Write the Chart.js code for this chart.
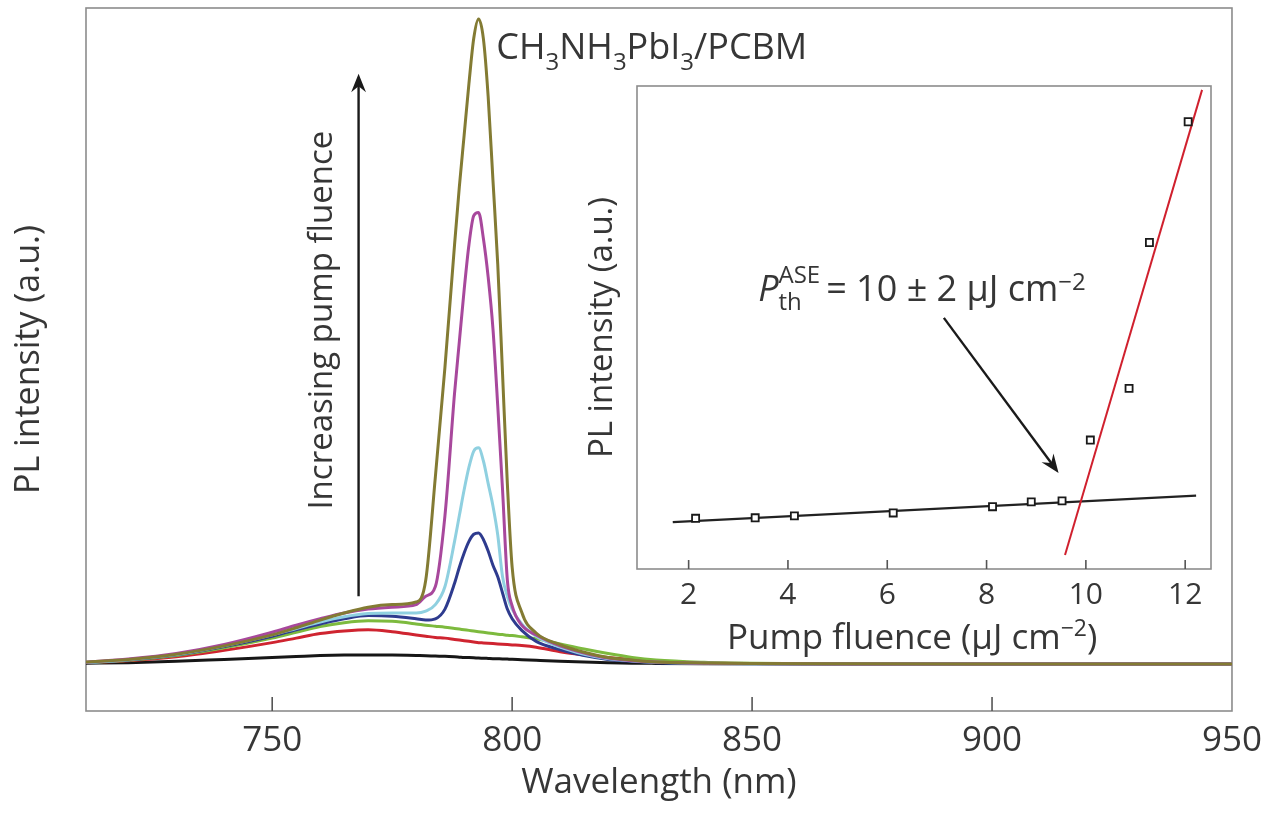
<!DOCTYPE html>
<html>
<head>
<meta charset="utf-8">
<script src="https://cdn.jsdelivr.net/npm/chart.js@4.4.0/dist/chart.umd.min.js"></script>
<style>
  body { margin: 0; background: #fff; }
  #wrap { position: relative; width: 1271px; height: 814px; }
  #main { position: absolute; left: 0; top: 0; }
  #inset { position: absolute; left: 560px; top: 56px; }
</style>
</head>
<body>
<div id="wrap">
  <canvas id="main" width="1271" height="814"></canvas>
  <canvas id="inset" width="690" height="612"></canvas>
</div>
<script>
// Main spectra (PL intensity, arbitrary units; highest peak = 100)
const wavelength = [711, 720, 730, 740, 750, 755, 760, 765, 770, 775, 780, 782, 784, 786, 788, 789, 790, 791, 792, 793, 794, 795, 796, 797, 798, 799, 800, 802, 805, 810, 815, 820, 825, 830, 840, 850, 870, 900, 950];
const plBlack   = [0.1, 0.2, 0.4, 0.7, 1.0, 1.15, 1.3, 1.38, 1.4, 1.38, 1.3, 1.27, 1.22, 1.18, 1.1, 1.05, 1.0, 0.98, 0.95, 0.9, 0.88, 0.85, 0.82, 0.8, 0.78, 0.75, 0.72, 0.65, 0.55, 0.4, 0.3, 0.2, 0.12, 0.08, 0.03, 0.01, 0, 0, 0];
const plRed     = [0.2, 0.5, 1.1, 2.1, 3.3, 4.0, 4.7, 5.1, 5.3, 5.0, 4.5, 4.3, 4.1, 4.0, 3.8, 3.7, 3.6, 3.5, 3.4, 3.3, 3.25, 3.2, 3.15, 3.1, 3.05, 3.0, 2.95, 2.85, 2.6, 1.9, 1.4, 1.0, 0.65, 0.4, 0.15, 0.05, 0, 0, 0];
const plGreen   = [0.2, 0.55, 1.3, 2.5, 4.0, 4.9, 5.8, 6.4, 6.7, 6.6, 6.2, 6.0, 5.85, 5.7, 5.5, 5.4, 5.3, 5.2, 5.1, 5.0, 4.9, 4.8, 4.7, 4.6, 4.55, 4.45, 4.4, 4.2, 3.9, 3.1, 2.3, 1.6, 1.0, 0.6, 0.25, 0.1, 0, 0, 0];
const plNavy    = [0.2, 0.6, 1.4, 2.7, 4.3, 5.3, 6.2, 7.0, 7.5, 7.4, 7.0, 6.8, 7.0, 8.5, 12.5, 15, 17.2, 19, 20.1, 20.3, 19.3, 17.5, 15.3, 13.5, 11, 8.5, 7.0, 5.2, 3.5, 2.2, 1.3, 0.7, 0.4, 0.2, 0.08, 0.03, 0, 0, 0];
const plCyan    = [0.2, 0.65, 1.45, 2.8, 4.5, 5.5, 6.5, 7.3, 7.8, 7.9, 7.9, 8.2, 9.2, 12, 19, 23, 27, 30.5, 33, 33.5, 31.5, 28, 24.5, 20, 13.5, 10.5, 8.5, 6.2, 4.3, 2.6, 1.5, 0.8, 0.45, 0.25, 0.1, 0.03, 0, 0, 0];
const plMagenta = [0.25, 0.75, 1.6, 3.0, 4.9, 6.0, 7.0, 7.9, 8.5, 8.8, 9.2, 10.5, 12, 23, 42, 50, 58, 65, 69.5, 70, 66, 60, 52, 40, 27, 13, 9, 6, 4.5, 2.8, 1.7, 0.9, 0.5, 0.3, 0.12, 0.05, 0, 0, 0];
const plOlive   = [0.3, 0.7, 1.5, 2.8, 4.5, 5.6, 6.8, 7.9, 8.8, 9.2, 9.6, 13, 29, 46, 65, 74, 82, 90, 97, 100, 97, 88, 75, 62, 45, 28, 15, 8, 4.8, 3.0, 1.8, 1.0, 0.6, 0.3, 0.15, 0.08, 0.03, 0, 0];
const wlTicks = [750, 800, 850, 900, 950];

// Inset: integrated PL vs pump fluence
const fluence     = [2.14, 3.34, 4.13, 6.12, 8.12, 8.9, 9.52, 10.09, 10.87, 11.28, 12.06];
const plIntegral  = [10.5, 10.6, 11.0, 11.6, 12.9, 13.9, 14.1, 26.7, 37.4, 67.6, 92.6];
const fitLowX  = [1.68, 12.22];
const fitLowY  = [9.7, 15.2];
const fitHighX = [9.58, 12.34];
const fitHighY = [2.9, 99.2];
const fluenceTicks = [2, 4, 6, 8, 10, 12];

const FONT = "'Open Sans', 'DejaVu Sans', sans-serif";
const TEXT = '#363636';
Chart.defaults.font.family = FONT;
Chart.defaults.color = TEXT;

const pts = (xs, ys) => xs.map((x, i) => ({ x, y: ys[i] }));

// draws text with sub/superscripts; parts = [text, kind, dy, noAdvance]
function drawRich(ctx, parts, x, y, size, align) {
  const total = parts.reduce((w, p) => {
    ctx.font = fontFor(p[1], size);
    return p[3] ? w : w + ctx.measureText(p[0]).width;
  }, 0);
  let cx = align === 'center' ? x - total / 2 : x;
  ctx.textAlign = 'left';
  ctx.textBaseline = 'alphabetic';
  parts.forEach(([t, kind, dy, noAdvance]) => {
    ctx.font = fontFor(kind, size);
    ctx.fillText(t, cx, y + (dy || 0) * size);
    if (!noAdvance) cx += ctx.measureText(t).width;
  });
}
function fontFor(kind, size) {
  if (kind === 'small') return `${Math.round(size * 0.66)}px ${FONT}`;
  if (kind === 'i') return `italic ${size}px ${FONT}`;
  return `${size}px ${FONT}`;
}

function arrow(ctx, x1, y1, x2, y2, head, w) {
  const ang = Math.atan2(y2 - y1, x2 - x1);
  ctx.lineWidth = w;
  ctx.beginPath();
  ctx.moveTo(x1, y1);
  ctx.lineTo(x2 - Math.cos(ang) * head * 0.6, y2 - Math.sin(ang) * head * 0.6);
  ctx.stroke();
  ctx.beginPath();
  ctx.moveTo(x2, y2);
  ctx.lineTo(x2 - head * Math.cos(ang - 0.38), y2 - head * Math.sin(ang - 0.38));
  ctx.lineTo(x2 - head * 0.62 * Math.cos(ang), y2 - head * 0.62 * Math.sin(ang));
  ctx.lineTo(x2 - head * Math.cos(ang + 0.38), y2 - head * Math.sin(ang + 0.38));
  ctx.closePath();
  ctx.fill();
}

// frame + inward tick marks
function frameAndTicks(chart, tickLen) {
  const { ctx, chartArea: a, scales: { x } } = chart;
  ctx.save();
  ctx.strokeStyle = '#8c8c8c';
  ctx.lineWidth = 1.6;
  ctx.strokeRect(a.left, a.top, a.right - a.left, a.bottom - a.top);
  ctx.strokeStyle = '#555';
  x.ticks.forEach(t => {
    const px = x.getPixelForValue(t.value);
    if (px > a.right - 2) return;
    ctx.beginPath();
    ctx.moveTo(px, a.bottom);
    ctx.lineTo(px, a.bottom - tickLen);
    ctx.stroke();
  });
  ctx.restore();
}

const mainDecor = {
  id: 'mainDecor',
  beforeDatasetsDraw(chart) { frameAndTicks(chart, 14); },
  afterDatasetsDraw(chart) {
    const { ctx, scales: { x, y } } = chart;
    ctx.save();
    ctx.fillStyle = '#1a1a1a';
    ctx.strokeStyle = '#1a1a1a';
    const ax = x.getPixelForValue(768);
    arrow(ctx, ax, y.getPixelForValue(10.5), ax, y.getPixelForValue(91.5), 20, 2.4);

    ctx.fillStyle = TEXT;
    ctx.translate(x.getPixelForValue(760.4), y.getPixelForValue(53.3));
    ctx.rotate(-Math.PI / 2);
    ctx.font = `33px ${FONT}`;
    ctx.textAlign = 'center';
    ctx.textBaseline = 'middle';
    ctx.fillText('Increasing pump fluence', 0, 0);
    ctx.restore();

    ctx.save();
    ctx.fillStyle = TEXT;
    drawRich(ctx, [
      ['CH'], ['3', 'small', 0.3], ['NH'], ['3', 'small', 0.3], ['PbI'], ['3', 'small', 0.3], ['/PCBM']
    ], x.getPixelForValue(796.7), y.getPixelForValue(93.8), 36, 'left');
    ctx.restore();
  }
};

const insetDecor = {
  id: 'insetDecor',
  beforeDatasetsDraw(chart) { frameAndTicks(chart, 9); },
  afterDatasetsDraw(chart) {
    const { ctx, chartArea: a, scales: { x, y } } = chart;
    ctx.save();
    ctx.fillStyle = '#1a1a1a';
    ctx.strokeStyle = '#1a1a1a';
    arrow(ctx, x.getPixelForValue(7.14), y.getPixelForValue(52), x.getPixelForValue(9.45), y.getPixelForValue(19.9), 20, 2.4);

    ctx.fillStyle = TEXT;
    drawRich(ctx, [
      ['P', 'i'], ['th', 'small', 0.25, true], ['ASE', 'small', -0.5], ['\u2009= 10 \u00b1 2 \u00b5J cm'], ['\u22122', 'small', -0.3]
    ], x.getPixelForValue(3.4), y.getPixelForValue(55.5), 36, 'left');

    drawRich(ctx, [
      ['Pump fluence (\u00b5J cm'], ['\u22122', 'small', -0.38], [')']
    ], x.getPixelForValue(6.5), a.bottom + 80, 35, 'center');
    ctx.restore();
  }
};

const lineSet = (data, color) => ({
  data: pts(wavelength, data), borderColor: color, borderWidth: 3,
  pointRadius: 0, cubicInterpolationMode: 'monotone', fill: false
});

new Chart(document.getElementById('main'), {
  type: 'line',
  data: {
    datasets: [
      lineSet(plOlive, '#837b33'),
      lineSet(plMagenta, '#a8489c'),
      lineSet(plCyan, '#8fd0e0'),
      lineSet(plNavy, '#2e3b8e'),
      lineSet(plGreen, '#7dba3e'),
      lineSet(plRed, '#cf2430'),
      lineSet(plBlack, '#161616')
    ]
  },
  options: {
    responsive: false,
    animation: false,
    layout: { padding: { top: 8, right: 34, left: 0, bottom: 0 } },
    plugins: { legend: { display: false }, tooltip: { enabled: false } },
    scales: {
      x: {
        type: 'linear', min: 711.2, max: 950,
        afterBuildTicks: s => { s.ticks = wlTicks.map(v => ({ value: v })); },
        afterFit: s => { s.height = 103; },
        grid: { display: false, drawTicks: false },
        border: { display: false },
        ticks: { font: { size: 35 }, padding: 9, color: TEXT, maxRotation: 0, autoSkip: false },
        title: { display: true, text: 'Wavelength (nm)', font: { size: 35 }, color: TEXT, padding: { top: 0, bottom: 10 } }
      },
      y: {
        min: -7.3, max: 101.7,
        afterFit: s => { s.width = 86; },
        ticks: { display: false },
        grid: { display: false, drawTicks: false },
        border: { display: false },
        title: { display: true, text: 'PL intensity (a.u.)', font: { size: 34 }, color: TEXT, padding: { top: 9, bottom: 0 } }
      }
    }
  },
  plugins: [mainDecor]
});

new Chart(document.getElementById('inset'), {
  type: 'line',
  data: {
    datasets: [
      {
        data: pts(fluence, plIntegral), showLine: false,
        pointStyle: 'rect', pointRadius: 5, borderWidth: 1.8,
        borderColor: '#1a1a1a', backgroundColor: '#ffffff'
      },
      { data: pts(fitHighX, fitHighY), borderColor: '#d0202e', borderWidth: 2, pointRadius: 0 },
      { data: pts(fitLowX, fitLowY), borderColor: '#222222', borderWidth: 2.4, pointRadius: 0 }
    ]
  },
  options: {
    responsive: false,
    animation: false,
    layout: { padding: { top: 30, right: 39, left: 0, bottom: 0 } },
    plugins: { legend: { display: false }, tooltip: { enabled: false } },
    scales: {
      x: {
        type: 'linear', min: 0.96, max: 12.52,
        afterBuildTicks: s => { s.ticks = fluenceTicks.map(v => ({ value: v })); },
        afterFit: s => { s.height = 99; },
        grid: { display: false, drawTicks: false },
        border: { display: false },
        ticks: { font: { size: 30 }, padding: 8, color: TEXT, maxRotation: 0, autoSkip: false }
      },
      y: {
        min: 0, max: 100,
        afterFit: s => { s.width = 77; },
        ticks: { display: false },
        grid: { display: false, drawTicks: false },
        border: { display: false },
        title: { display: true, text: 'PL intensity (a.u.)', font: { size: 33 }, color: TEXT, padding: { top: 23, bottom: 0 } }
      }
    }
  },
  plugins: [insetDecor]
});
</script>
</body>
</html>
